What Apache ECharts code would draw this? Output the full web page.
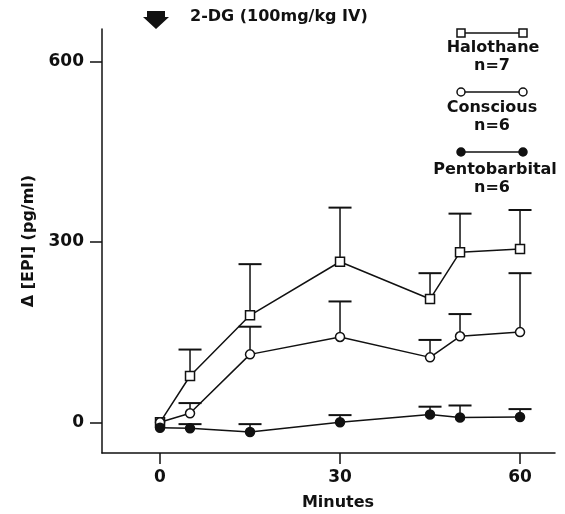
<!DOCTYPE html>
<html>
<head>
<meta charset="utf-8">
<style>
  html, body { margin: 0; padding: 0; background: #fff; }
  #chart { width: 565px; height: 514px; }
</style>
<script src="https://cdn.jsdelivr.net/npm/echarts@6/dist/echarts.min.js"></script>
</head>
<body>
<div id="chart"></div>
<script>
// minutes after 2-DG
const minutes = [0, 5, 15, 30, 45, 50, 60]
// mean delta EPI (pg/ml) and top of the error bar
const halothane = [0, 77, 178, 267, 205, 283, 288]
const halothaneUpper = [null, 121, 263, 357, 248, 347, 353]
const conscious = [0, 15, 113, 142, 108, 143, 150]
const consciousUpper = [null, 32, 159, 201, 137, 180, 248]
const pentobarbital = [-9, -10, -16, 0, 13, 8, 9]
const pentobarbitalUpper = [null, -3, -3, 12, 26, 28, 22]
const xTicks = [0, 30, 60]
const yTicks = [0, 300, 600]

const ink = '#111'
const font = '"DejaVu Sans", sans-serif'

function pairs(vals) {
  return minutes.map((m, i) => [m, vals[i]])
}

function errorBars(name, means, uppers) {
  const data = []
  minutes.forEach((m, i) => {
    if (uppers[i] != null) data.push([m, means[i], uppers[i]])
  })
  return {
    type: 'custom',
    name: name + ' sem',
    data: data,
    z: 1,
    silent: true,
    encode: { x: 0, y: [1, 2] },
    renderItem(params, api) {
      const base = api.coord([api.value(0), api.value(1)])
      const top = api.coord([api.value(0), api.value(2)])
      const half = 11.5
      return {
        type: 'group',
        children: [
          { type: 'line', shape: { x1: base[0], y1: base[1], x2: top[0], y2: top[1] }, style: { stroke: ink, lineWidth: 1.5 } },
          { type: 'line', shape: { x1: top[0] - half, y1: top[1], x2: top[0] + half, y2: top[1] }, style: { stroke: ink, lineWidth: 2 } }
        ]
      }
    }
  }
}

function lineSeries(name, vals, symbol, fill) {
  return {
    type: 'line',
    name: name,
    data: pairs(vals),
    z: 3,
    symbol: symbol,
    symbolSize: 9,
    showAllSymbol: true,
    lineStyle: { color: ink, width: 1.5 },
    itemStyle: { color: fill, borderColor: ink, borderWidth: 1.5 }
  }
}

function text(str, x, y, size, align) {
  align = align || 'center'
  return {
    type: 'text',
    x: x,
    y: y,
    style: {
      text: str,
      font: 'bold ' + size + 'px ' + font,
      fill: ink,
      align: align,
      verticalAlign: 'middle',
      textAlign: align,
      textVerticalAlign: 'middle'
    }
  }
}

function legendKey(y, symbol, fill) {
  const items = [
    { type: 'line', shape: { x1: 461, y1: y, x2: 523, y2: y }, style: { stroke: ink, lineWidth: 1.5 } }
  ]
  ;[461, 523].forEach(x => {
    if (symbol === 'rect') {
      items.push({ type: 'rect', shape: { x: x - 4, y: y - 4, width: 8, height: 8 }, style: { fill: fill, stroke: ink, lineWidth: 1.5 } })
    } else {
      items.push({ type: 'circle', shape: { cx: x, cy: y, r: 4 }, style: { fill: fill, stroke: ink, lineWidth: 1.5 } })
    }
  })
  return items
}

const chart = echarts.init(document.getElementById('chart'))
chart.setOption({
  animation: false,
  backgroundColor: '#fff',
  grid: { left: 102, right: 10, top: 29, bottom: 61 },
  xAxis: {
    type: 'value',
    min: -9.67,
    max: 65.83,
    splitLine: { show: false },
    axisLine: { onZero: false, lineStyle: { color: ink, width: 1.5 } },
    axisTick: { customValues: xTicks, length: 11, lineStyle: { color: ink, width: 1.5 } },
    axisLabel: { customValues: xTicks, margin: 16, color: ink, fontFamily: font, fontWeight: 'bold', fontSize: 17 }
  },
  yAxis: {
    type: 'value',
    min: -51,
    max: 654,
    name: 'Δ [EPI] (pg/ml)',
    nameLocation: 'middle',
    nameGap: 65,
    nameTextStyle: { color: ink, fontFamily: font, fontWeight: 'bold', fontSize: 16 },
    splitLine: { show: false },
    axisLine: { show: true, onZero: false, lineStyle: { color: ink, width: 1.5 } },
    axisTick: { show: true, customValues: yTicks, length: 12, lineStyle: { color: ink, width: 1.5 } },
    axisLabel: { customValues: yTicks, margin: 18, color: ink, fontFamily: font, fontWeight: 'bold', fontSize: 17 }
  },
  graphic: [
    { type: 'polygon', shape: { points: [[147, 11], [165, 11], [165, 17], [169, 17], [156, 29], [143, 17], [147, 17]] }, style: { fill: ink } },
    text('2-DG (100mg/kg IV)', 190, 17, 16, 'left'),
    text('Minutes', 338, 503, 16),
    ...legendKey(33, 'rect', '#fff'),
    text('Halothane', 493, 48, 16),
    text('n=7', 492, 66, 16),
    ...legendKey(92, 'circle', '#fff'),
    text('Conscious', 492, 108, 16),
    text('n=6', 492, 126, 16),
    ...legendKey(152, 'circle', ink),
    text('Pentobarbital', 495, 170, 16),
    text('n=6', 492, 188, 16)
  ],
  series: [
    errorBars('Halothane', halothane, halothaneUpper),
    errorBars('Conscious', conscious, consciousUpper),
    errorBars('Pentobarbital', pentobarbital, pentobarbitalUpper),
    lineSeries('Halothane', halothane, 'rect', '#fff'),
    lineSeries('Conscious', conscious, 'circle', '#fff'),
    lineSeries('Pentobarbital', pentobarbital, 'circle', ink)
  ]
})
</script>
</body>
</html>
